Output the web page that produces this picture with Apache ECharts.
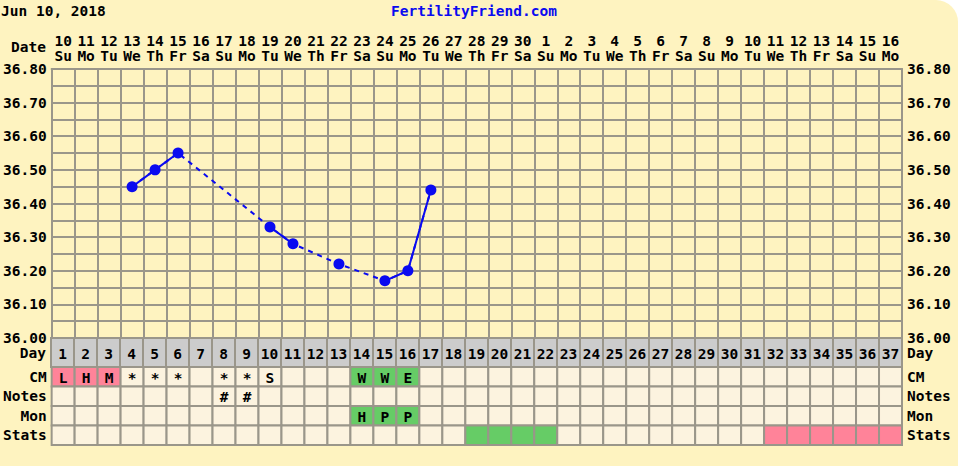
<!DOCTYPE html>
<html>
<head>
<meta charset="utf-8">
<script src="https://cdn.jsdelivr.net/npm/echarts@6/dist/echarts.min.js"></script>
<style>
html,body{margin:0;padding:0;background:#ffffff;}
#wrap{width:958px;height:466px;background:#FEF3C0;border-top-right-radius:22px;overflow:hidden;}
#chart{width:958px;height:466px;}
</style>
</head>
<body>
<div id="wrap"><div id="chart"></div></div>
<script>
// ---- data ----
const dates = ['10','11','12','13','14','15','16','17','18','19','20','21','22','23','24','25','26','27','28','29','30','1','2','3','4','5','6','7','8','9','10','11','12','13','14','15','16'];
const weekdays = ['Su','Mo','Tu','We','Th','Fr','Sa','Su','Mo','Tu','We','Th','Fr','Sa','Su','Mo','Tu','We','Th','Fr','Sa','Su','Mo','Tu','We','Th','Fr','Sa','Su','Mo','Tu','We','Th','Fr','Sa','Su','Mo'];
const cycleDays = ['1','2','3','4','5','6','7','8','9','10','11','12','13','14','15','16','17','18','19','20','21','22','23','24','25','26','27','28','29','30','31','32','33','34','35','36','37'];
// temperatures by cycle day (null = not recorded)
const temps = [null,null,null,36.45,36.50,36.55,null,null,null,36.33,36.28,null,36.22,null,36.17,36.20,36.44,null,null,null,null,null,null,null,null,null,null,null,null,null,null,null,null,null,null,null,null];
const tempTicks = ['36.00','36.10','36.20','36.30','36.40','36.50','36.60','36.70','36.80'];
const rowNames = ['CM','Notes','Mon','Stats'];
// [dayIndex(0-based), text, colourKey]
const cmCells = [[0,'L','pink'],[1,'H','pink'],[2,'M','pink'],[3,'*',''],[4,'*',''],[5,'*',''],[7,'*',''],[8,'*',''],[9,'S',''],[13,'W','green'],[14,'W','green'],[15,'E','green']];
const notesCells = [[7,'#',''],[8,'#','']];
const monCells = [[13,'H','green'],[14,'P','green'],[15,'P','green']];
const statsCells = [[18,'','green'],[19,'','green'],[20,'','green'],[21,'','green'],[31,'','pink'],[32,'','pink'],[33,'','pink'],[34,'','pink'],[35,'','pink'],[36,'','pink']];

// ---- styling ----
const FONT = '"DejaVu Sans Mono", "Liberation Mono", monospace';
const FS = 14.5;
const COLORS = {pink:'#FF8399', green:'#66CC66', cream:'#FCF3DF', gray:'#CCCCCC'};
const GRIDLINE = '#9a968a';
const BLUE = '#0A0AF0';

// build table cells
const tableCells = [];
const rowLists = [cmCells, notesCells, monCells, statsCells];
rowNames.forEach(function(r, ri){
  const map = {};
  rowLists[ri].forEach(function(c){ map[c[0]] = c; });
  for (let d = 0; d < cycleDays.length; d++) {
    const c = map[d];
    tableCells.push({value:[d, ri], text: c ? c[1] : '', fill: c && c[2] ? COLORS[c[2]] : COLORS.cream});
  }
});
const dayCells = cycleDays.map(function(d, i){ return {value:[i, 0], text:d, fill:COLORS.gray}; });

function cellRenderer(list){
  return function(params, api){
    const item = list[params.dataIndex];
    const c = api.coord([api.value(0), api.value(1)]);
    const s = api.size([1, 1]);
    return {type:'group', children:[
      {type:'rect', shape:{x:c[0]-s[0]/2, y:c[1]-s[1]/2, width:s[0], height:s[1]},
       style:{fill:item.fill, stroke:GRIDLINE, lineWidth:2}},
      {type:'text', style:{text:item.text, x:c[0], y:c[1]+1, align:'center', verticalAlign:'middle',
       font:'bold ' + FS + 'px ' + FONT, fill:'#000'}}
    ]};
  };
}

const labelBase = {fontFamily:FONT, fontWeight:'bold', fontSize:FS, color:'#000'};
const L = 51, W = 851;

const chart = echarts.init(document.getElementById('chart'), null, {renderer:'svg'});
chart.setOption({
  backgroundColor:'transparent',
  animation:false,
  graphic:[
    {type:'text', x:1, y:11, style:{text:'Jun 10, 2018', verticalAlign:'middle', font:'bold ' + FS + 'px ' + FONT, fill:'#000'}},
    {type:'text', x:474, y:11, style:{text:'FertilityFriend.com', align:'center', verticalAlign:'middle', font:'bold ' + FS + 'px ' + FONT, fill:BLUE}},
    {type:'text', x:46, y:47, style:{text:'Date', align:'right', verticalAlign:'middle', font:'bold ' + FS + 'px ' + FONT, fill:'#000'}}
  ],
  grid:[
    {left:L, top:69, width:W, height:269},
    {left:L, top:338, width:W, height:29},
    {left:L, top:367, width:W, height:78}
  ],
  xAxis:[
    {type:'category', gridIndex:0, position:'top', data:dates.map(function(d,i){return d + '\n' + weekdays[i];}),
     boundaryGap:true,
     axisLine:{show:true, lineStyle:{color:GRIDLINE, width:2}}, axisTick:{show:false},
     splitLine:{show:true, interval:0, lineStyle:{color:GRIDLINE, width:2}},
     axisLabel:Object.assign({interval:0, lineHeight:15, margin:6}, labelBase)},
    {type:'category', gridIndex:1, data:cycleDays, show:false},
    {type:'category', gridIndex:2, data:cycleDays, show:false}
  ],
  yAxis:[
    {type:'value', gridIndex:0, position:'left', min:36.0, max:36.8, interval:0.05,
     axisLine:{show:true, lineStyle:{color:GRIDLINE, width:2}}, axisTick:{show:false},
     splitLine:{show:true, lineStyle:{color:GRIDLINE, width:2}},
     axisLabel:Object.assign({margin:5, formatter:function(v){
       const t = v.toFixed(2); return tempTicks.indexOf(t) >= 0 ? t : '';
     }}, labelBase)},
    {type:'value', gridIndex:0, position:'right', min:36.0, max:36.8, interval:0.05,
     axisLine:{show:true, lineStyle:{color:GRIDLINE, width:2}}, axisTick:{show:false},
     splitLine:{show:false},
     axisLabel:Object.assign({margin:5, formatter:function(v){
       const t = v.toFixed(2); return tempTicks.indexOf(t) >= 0 ? t : '';
     }}, labelBase)},
    {type:'category', gridIndex:1, position:'left', data:['Day'], axisLine:{show:false}, axisTick:{show:false},
     axisLabel:Object.assign({margin:5, interval:0}, labelBase)},
    {type:'category', gridIndex:1, position:'right', data:['Day'], axisLine:{show:false}, axisTick:{show:false},
     axisLabel:Object.assign({margin:5, interval:0}, labelBase)},
    {type:'category', gridIndex:2, position:'left', inverse:true, data:rowNames, axisLine:{show:false}, axisTick:{show:false},
     axisLabel:Object.assign({margin:5, interval:0}, labelBase)},
    {type:'category', gridIndex:2, position:'right', inverse:true, data:rowNames, axisLine:{show:false}, axisTick:{show:false},
     axisLabel:Object.assign({margin:5, interval:0}, labelBase)}
  ],
  series:[
    {type:'line', xAxisIndex:0, yAxisIndex:0, data:temps, connectNulls:true, showSymbol:false, symbol:'none',
     lineStyle:{color:BLUE, width:2, type:[5,5]}, z:2, silent:true},
    {type:'line', xAxisIndex:0, yAxisIndex:0, data:temps, connectNulls:false, symbol:'circle', symbolSize:11,
     itemStyle:{color:BLUE}, lineStyle:{color:BLUE, width:2}, z:3},
    {type:'custom', xAxisIndex:1, yAxisIndex:2, data:dayCells.map(function(c){return c.value;}), renderItem:cellRenderer(dayCells), clip:false},
    {type:'custom', xAxisIndex:2, yAxisIndex:4, data:tableCells.map(function(c){return c.value;}), renderItem:cellRenderer(tableCells), clip:false}
  ]
});
</script>
</body>
</html>
